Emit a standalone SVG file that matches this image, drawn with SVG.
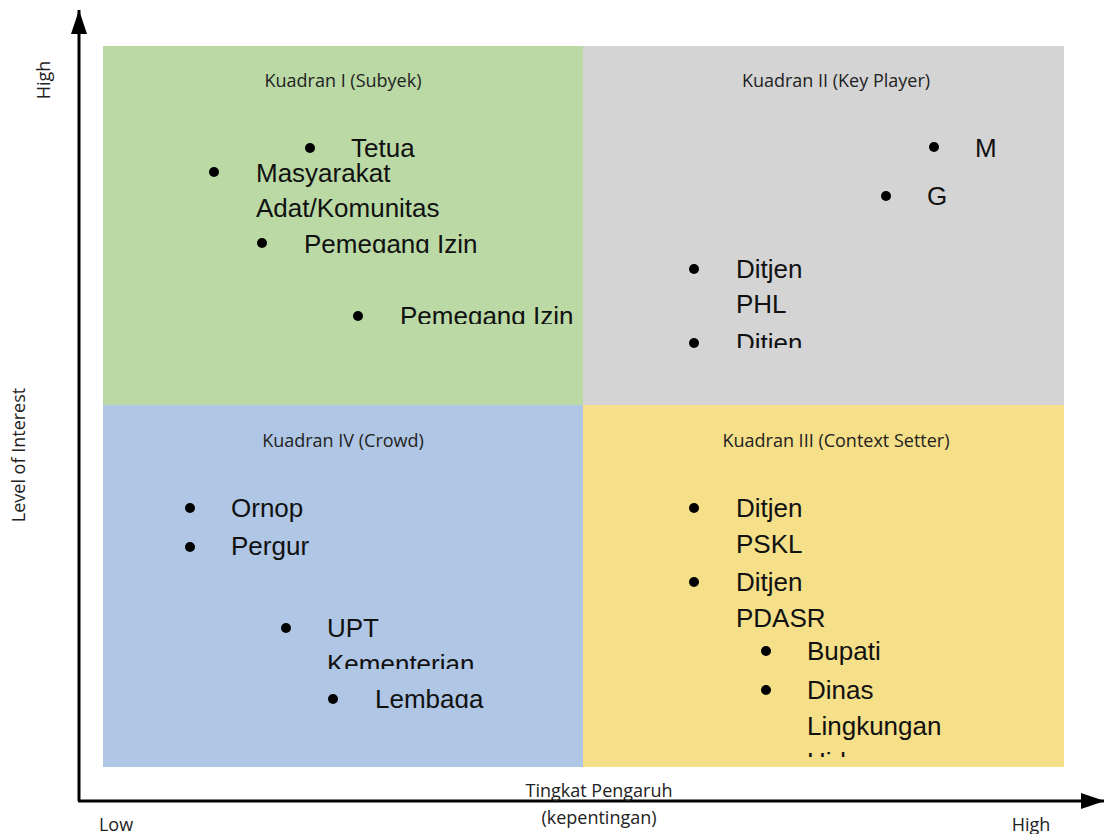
<svg xmlns="http://www.w3.org/2000/svg" width="1104" height="834" viewBox="0 0 1104 834">
  <style>
    .lbl { font-family: "Open Sans", "Liberation Sans", sans-serif; font-size: 18px; fill: #222; }
    .item { font-family: "Liberation Sans", Arial, sans-serif; font-size: 26px; fill: #111; }
    .dot { fill: #000; }
    .axis { stroke: #000; stroke-width: 3; fill: none; }
  </style>
  <defs>
    <marker id="arrow" viewBox="0 0 24 16" refX="24" refY="8" markerWidth="24" markerHeight="16" markerUnits="userSpaceOnUse" orient="auto">
      <path d="M0,0 L24,8 L0,16 Z" fill="#000"/>
    </marker>
    <clipPath id="c1"><rect x="103" y="230" width="480" height="23"/></clipPath>
    <clipPath id="c2"><rect x="103" y="300" width="480" height="24"/></clipPath>
    <clipPath id="c3"><rect x="583" y="320" width="480" height="28"/></clipPath>
    <clipPath id="c4"><rect x="103" y="650" width="480" height="19"/></clipPath>
    <clipPath id="c5"><rect x="103" y="680" width="480" height="28"/></clipPath>
    <clipPath id="c6"><rect x="583" y="640" width="480" height="117"/></clipPath>
  </defs>

  <!-- quadrant backgrounds -->
  <g id="quadrant-1">
    <rect x="103" y="46" width="480" height="359" fill="#BAD9A5"/>
    <text class="lbl" x="343" y="87" text-anchor="middle">Kuadran I (Subyek)</text>
  </g>
  <g id="quadrant-2">
    <rect x="583" y="46" width="481" height="359" fill="#D4D4D4"/>
    <text class="lbl" x="836" y="87" text-anchor="middle">Kuadran II (Key Player)</text>
  </g>
  <g id="quadrant-4">
    <rect x="103" y="405" width="480" height="362" fill="#AFC6E4"/>
    <text class="lbl" x="343" y="447" text-anchor="middle">Kuadran IV (Crowd)</text>
  </g>
  <g id="quadrant-3">
    <rect x="583" y="405" width="481" height="362" fill="#F5DF88"/>
    <text class="lbl" x="836" y="447" text-anchor="middle">Kuadran III (Context Setter)</text>
  </g>

  <!-- stakeholders, quadrant I -->
  <g id="q1-items">
    <circle class="dot" cx="310" cy="148" r="5"/>
    <text class="item" x="351" y="157">Tetua</text>
    <circle class="dot" cx="214" cy="172" r="5"/>
    <text class="item" x="256" y="182">Masyarakat</text>
    <text class="item" x="256" y="217">Adat/Komunitas</text>
    <circle class="dot" cx="262" cy="243" r="5"/>
    <text class="item" x="304" y="253" clip-path="url(#c1)">Pemegang Izin</text>
    <circle class="dot" cx="358" cy="316" r="5"/>
    <text class="item" x="400" y="325" clip-path="url(#c2)">Pemegang Izin</text>
  </g>

  <!-- stakeholders, quadrant II -->
  <g id="q2-items">
    <circle class="dot" cx="934" cy="147" r="5"/>
    <text class="item" x="975" y="157">M</text>
    <circle class="dot" cx="886" cy="196" r="5"/>
    <text class="item" x="927" y="205">G</text>
    <circle class="dot" cx="694" cy="269" r="5"/>
    <text class="item" x="736" y="278">Ditjen</text>
    <text class="item" x="736" y="313">PHL</text>
    <circle class="dot" cx="694" cy="343" r="5"/>
    <text class="item" x="736" y="352" clip-path="url(#c3)">Ditjen</text>
  </g>

  <!-- stakeholders, quadrant IV -->
  <g id="q4-items">
    <circle class="dot" cx="190" cy="508" r="5"/>
    <text class="item" x="231" y="517">Ornop</text>
    <circle class="dot" cx="190" cy="547" r="5"/>
    <text class="item" x="231" y="555">Pergur</text>
    <circle class="dot" cx="286" cy="628" r="5"/>
    <text class="item" x="327" y="637">UPT</text>
    <text class="item" x="327" y="673" clip-path="url(#c4)">Kementerian</text>
    <circle class="dot" cx="333" cy="699" r="5"/>
    <text class="item" x="375" y="708" clip-path="url(#c5)">Lembaga</text>
  </g>

  <!-- stakeholders, quadrant III -->
  <g id="q3-items">
    <circle class="dot" cx="694" cy="508" r="5"/>
    <text class="item" x="736" y="517">Ditjen</text>
    <text class="item" x="736" y="553">PSKL</text>
    <circle class="dot" cx="694" cy="582" r="5"/>
    <text class="item" x="736" y="591">Ditjen</text>
    <text class="item" x="736" y="627">PDASR</text>
    <circle class="dot" cx="766" cy="651" r="5"/>
    <text class="item" x="807" y="660">Bupati</text>
    <circle class="dot" cx="766" cy="690" r="5"/>
    <text class="item" x="807" y="699">Dinas</text>
    <text class="item" x="807" y="735">Lingkungan</text>
    <text class="item" x="807" y="771" clip-path="url(#c6)">Hidup</text>
  </g>

  <!-- axes -->
  <g id="connectors">
    <line class="axis" x1="79" y1="801" x2="79" y2="10" marker-end="url(#arrow)"/>
    <line class="axis" x1="78" y1="801" x2="1105" y2="801" marker-end="url(#arrow)"/>
  </g>

  <!-- axis labels -->
  <g id="axis-labels">
    <text class="lbl" transform="translate(50,80) rotate(-90)" text-anchor="middle">High</text>
    <text class="lbl" transform="translate(25,455) rotate(-90)" text-anchor="middle">Level of Interest</text>
    <text class="lbl" x="116" y="831" text-anchor="middle">Low</text>
    <text class="lbl" x="1031" y="831" text-anchor="middle">High</text>
    <text class="lbl" x="599" y="797" text-anchor="middle">Tingkat Pengaruh</text>
    <text class="lbl" x="599" y="824" text-anchor="middle">(kepentingan)</text>
  </g>
</svg>
